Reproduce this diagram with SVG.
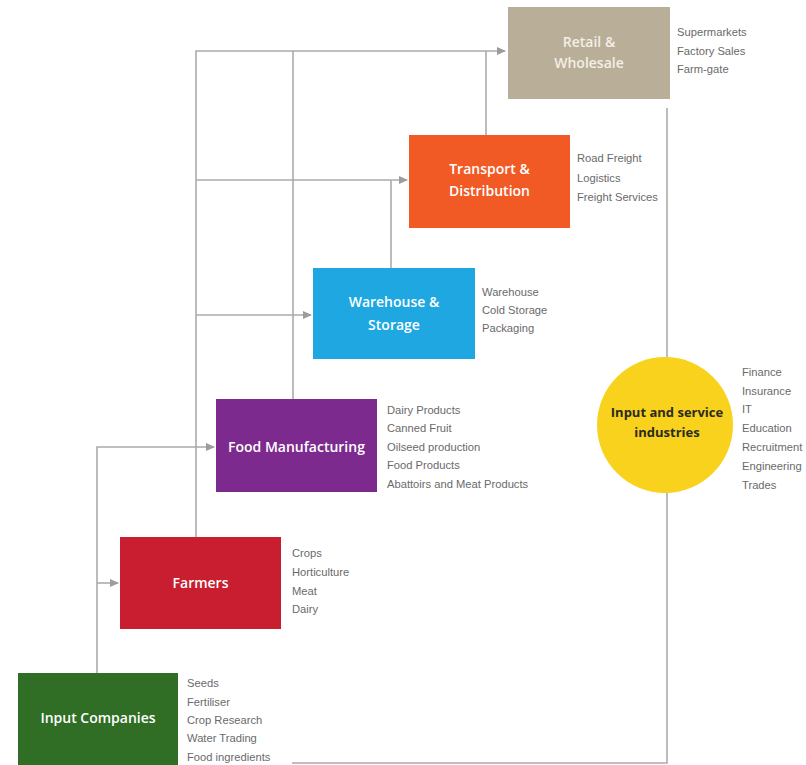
<svg xmlns="http://www.w3.org/2000/svg" width="806" height="765" viewBox="0 0 806 765">
<defs>
<marker id="ah" markerWidth="10" markerHeight="10" refX="8" refY="4" orient="auto" markerUnits="userSpaceOnUse">
<path d="M0,0 L9,4 L0,8 Z" fill="#9c9c9c"/>
</marker>
<style>
.ln{fill:none;stroke:#ababab;stroke-width:1.6}
.lbl{font-family:"Open Sans","Liberation Sans",sans-serif;font-weight:600;font-size:14px;fill:#ffffff;text-anchor:middle}
.desc{font-family:"Liberation Sans",Arial,sans-serif;font-size:11.2px;fill:#6a6a6a}
.circ{font-family:"Open Sans","Liberation Sans",sans-serif;font-weight:700;font-size:13px;fill:#2b2a1e;text-anchor:middle}
</style>
</defs>
<rect width="806" height="765" fill="#ffffff"/>
<g id="connectors">
<polyline class="ln" points="196,537 196,51 505,51" marker-end="url(#ah)"/>
<line class="ln" x1="293" y1="51" x2="293" y2="399"/>
<line class="ln" x1="486" y1="51" x2="486" y2="135"/>
<line class="ln" x1="196" y1="180" x2="407" y2="180" marker-end="url(#ah)"/>
<line class="ln" x1="391" y1="180" x2="391" y2="268"/>
<line class="ln" x1="196" y1="315" x2="311" y2="315" marker-end="url(#ah)"/>
<polyline class="ln" points="97,673 97,447 214,447" marker-end="url(#ah)"/>
<line class="ln" x1="97" y1="583" x2="118" y2="583" marker-end="url(#ah)"/>
<line class="ln" x1="667" y1="108" x2="667" y2="358"/>
<polyline class="ln" points="667,493 667,763 292,763"/>
</g>
<g id="retail">
<rect x="508" y="7" width="162" height="92" fill="#b9ae97"/>
<text class="lbl" x="589" y="47" style="fill:#f3efe6">Retail &amp;</text>
<text class="lbl" x="589" y="68" style="fill:#f3efe6">Wholesale</text>
<text class="desc" x="677" y="36">Supermarkets</text>
<text class="desc" x="677" y="55">Factory Sales</text>
<text class="desc" x="677" y="73">Farm-gate</text>
</g>
<g id="transport">
<rect x="409" y="135" width="161" height="93" fill="#f15a24"/>
<text class="lbl" x="489.5" y="174">Transport &amp;</text>
<text class="lbl" x="489.5" y="196">Distribution</text>
<text class="desc" x="577" y="162">Road Freight</text>
<text class="desc" x="577" y="182">Logistics</text>
<text class="desc" x="577" y="201">Freight Services</text>
</g>
<g id="warehouse">
<rect x="313" y="268" width="162" height="91" fill="#1ea7e1"/>
<text class="lbl" x="394" y="307">Warehouse &amp;</text>
<text class="lbl" x="394" y="330">Storage</text>
<text class="desc" x="482" y="296">Warehouse</text>
<text class="desc" x="482" y="314">Cold Storage</text>
<text class="desc" x="482" y="332">Packaging</text>
</g>
<g id="food">
<rect x="216" y="399" width="161" height="93" fill="#7d2a8e"/>
<text class="lbl" x="296.5" y="452">Food Manufacturing</text>
<text class="desc" x="387" y="414">Dairy Products</text>
<text class="desc" x="387" y="432">Canned Fruit</text>
<text class="desc" x="387" y="451">Oilseed production</text>
<text class="desc" x="387" y="469">Food Products</text>
<text class="desc" x="387" y="488">Abattoirs and Meat Products</text>
</g>
<g id="farmers">
<rect x="120" y="537" width="161" height="92" fill="#c81e30"/>
<text class="lbl" x="200.5" y="588">Farmers</text>
<text class="desc" x="292" y="557">Crops</text>
<text class="desc" x="292" y="576">Horticulture</text>
<text class="desc" x="292" y="595">Meat</text>
<text class="desc" x="292" y="613">Dairy</text>
</g>
<g id="input">
<rect x="18" y="673" width="160" height="92" fill="#2f6e24"/>
<text class="lbl" x="98" y="723">Input Companies</text>
<text class="desc" x="187" y="687">Seeds</text>
<text class="desc" x="187" y="706">Fertiliser</text>
<text class="desc" x="187" y="724">Crop Research</text>
<text class="desc" x="187" y="742">Water Trading</text>
<text class="desc" x="187" y="761">Food ingredients</text>
</g>
<g id="services">
<circle cx="665" cy="425" r="68" fill="#f8d21c"/>
<text class="circ" x="667" y="417">Input and service</text>
<text class="circ" x="667" y="437">industries</text>
<text class="desc" x="742" y="376">Finance</text>
<text class="desc" x="742" y="395">Insurance</text>
<text class="desc" x="742" y="413">IT</text>
<text class="desc" x="742" y="432">Education</text>
<text class="desc" x="742" y="451">Recruitment</text>
<text class="desc" x="742" y="470">Engineering</text>
<text class="desc" x="742" y="489">Trades</text>
</g>
</svg>
